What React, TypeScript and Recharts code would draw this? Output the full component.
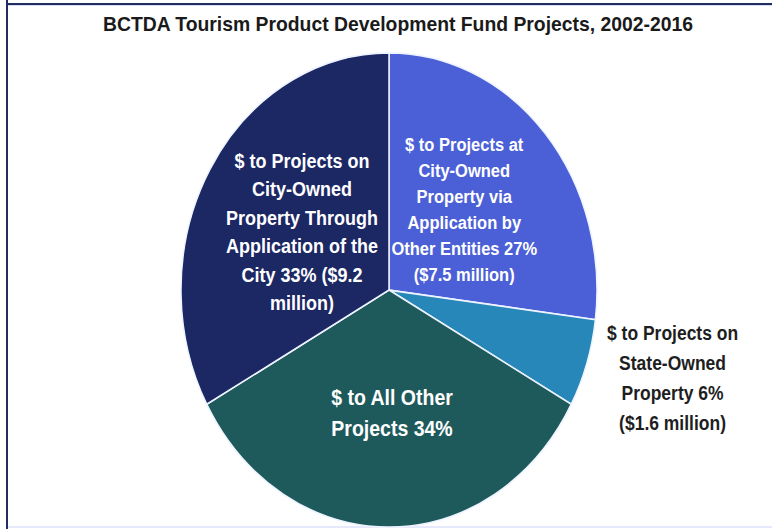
import { PieChart, Pie, Cell } from "recharts";

const title = "BCTDA Tourism Product Development Fund Projects, 2002-2016";

const categories = [
  "City-Owned Property via Other Entities",
  "State-Owned Property",
  "All Other Projects",
  "City-Owned Property Through the City",
];
const shares = [27, 6, 34, 33];
const labelLines = [
  ["$ to Projects at", "City-Owned", "Property via", "Application by", "Other Entities 27%", "($7.5 million)"],
  ["$ to Projects on", "State-Owned", "Property 6%", "($1.6 million)"],
  ["$ to All Other", "Projects 34%"],
  ["$ to Projects on", "City-Owned", "Property Through", "Application of the", "City 33% ($9.2", "million)"],
];

const colors = ["#4b60d6", "#2887b9", "#1e5a5b", "#1c2864"];
// label placement: radius from centre, extra offset, font size, line height, fill
const labelStyle = [
  { r: 103, dx: -2, dy: -2, size: 16.5, lh: 22.8, fill: "#ffffff" },
  { r: 295, dx: 3, dy: -14, size: 17.5, lh: 26.3, fill: "#1e1e1e" },
  { r: 107, dx: 3, dy: 0, size: 19.5, lh: 27.2, fill: "#ffffff" },
  { r: 101, dx: 0, dy: 0, size: 18, lh: 25, fill: "#ffffff" },
];

const data = categories.map((name, i) => ({ name, value: shares[i] }));

const W = 772;
const H = 464;
const SY = 529 / H;
const RAD = Math.PI / 180;
const font = "'Liberation Sans', Arial, sans-serif";

const renderLabel = (props: any) => {
  const { cx, cy, midAngle, index } = props;
  const st = labelStyle[index];
  const lines = labelLines[index];
  const x = cx + st.r * Math.cos(-midAngle * RAD) + st.dx;
  const y = cy + st.r * Math.sin(-midAngle * RAD) + st.dy;
  const top = y - ((lines.length - 1) * st.lh) / 2;
  return (
    <text
      x={x}
      y={top}
      textAnchor="middle"
      dominantBaseline="central"
      fill={st.fill}
      fontFamily={font}
      fontWeight="bold"
      fontSize={st.size}
    >
      {lines.map((ln, i) => (
        <tspan key={i} x={x} y={top + i * st.lh}>
          {ln}
        </tspan>
      ))}
    </text>
  );
};

export default function App() {
  return (
    <div style={{ position: "absolute", left: 0, top: 0, width: 772, height: 529, background: "#fff", overflow: "hidden" }}>
      <div style={{ position: "absolute", left: 6, top: 0, width: 2, height: 529, background: "#1f2d5f" }} />
      <div style={{ position: "absolute", left: 6, top: 3, width: 766, height: 2, background: "#1f2d5f" }} />
      <div style={{ position: "absolute", left: 8, top: 5, width: 764, height: 1, background: "#d9dcf5" }} />
      <div style={{ position: "absolute", left: 8, top: 526, width: 764, height: 2, background: "#e6e8fb" }} />
      <div style={{ position: "absolute", left: 0, top: 0, transform: `scaleY(${SY})`, transformOrigin: "0 0" }}>
        <PieChart width={W} height={H} margin={{ top: 0, right: 0, bottom: 0, left: 0 }}>
          <text
            x={398}
            y={27}
            textAnchor="middle"
            fontFamily={font}
            fontWeight="bold"
            fontSize={17}
            fill="#1a1a1a"
            textLength={590}
            lengthAdjust="spacingAndGlyphs"
          >
            {title}
          </text>
          <Pie
            data={data}
            dataKey="value"
            nameKey="name"
            cx={389}
            cy={254.4}
            outerRadius={208}
            startAngle={90}
            endAngle={-270}
            stroke="#eef4ff"
            strokeWidth={1.5}
            label={renderLabel}
            labelLine={false}
            isAnimationActive={false}
          >
            {data.map((d, i) => (
              <Cell key={d.name} fill={colors[i]} />
            ))}
          </Pie>
        </PieChart>
      </div>
    </div>
  );
}
